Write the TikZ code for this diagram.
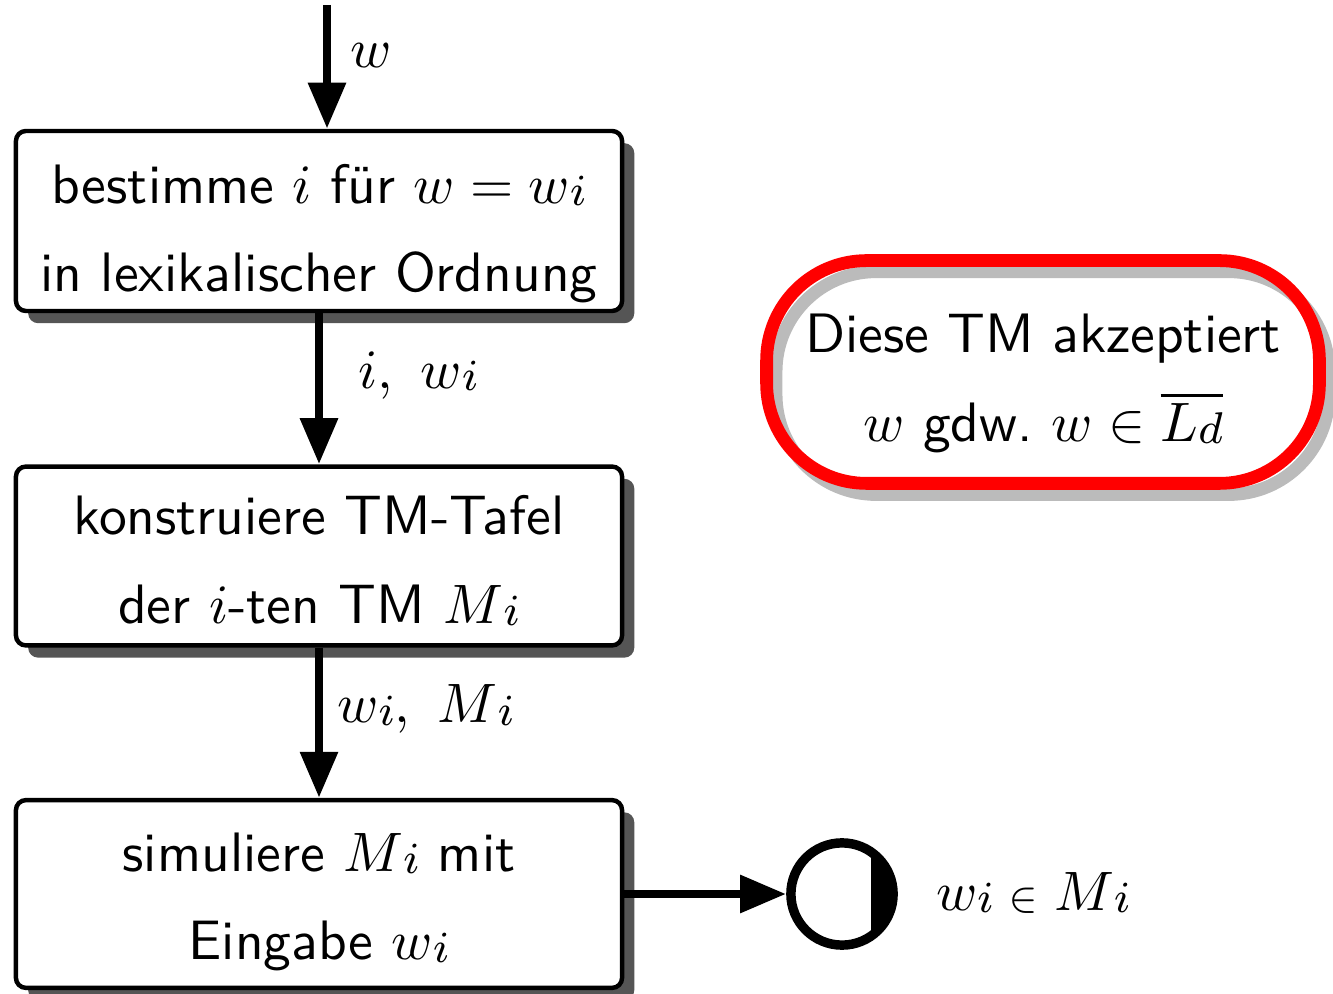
\documentclass[tikz,border=0pt]{standalone}
\usetikzlibrary{arrows.meta,shadows}
\definecolor{boxshadow}{HTML}{555555}
\definecolor{ovalshadow}{HTML}{BBBBBB}
\definecolor{ovalred}{HTML}{FF0000}
% index set close to the baseline, slightly smaller than the base letter
\newcommand\lowidx[1]{\raisebox{-0.4pt}{\fontsize{8}{8}\selectfont$#1$}}
\begin{document}
\begin{tikzpicture}[x=0.18pt, y=-0.18pt,
  every node/.style={font=\sffamily\fontsize{10}{16}\selectfont},
  stepbox/.style={draw, line width=0.8pt, fill=white, rounded corners=1.8pt,
    minimum width=109.1pt, align=center, inner sep=0pt,
    drop shadow={shadow xshift=2.2pt, shadow yshift=-2.2pt, fill=boxshadow, opacity=1}},
  oval/.style={draw=ovalred, line width=2.3pt, rounded corners=18pt,
    minimum width=99.5pt, minimum height=40.1pt, align=center, inner sep=0pt,
    general shadow={draw=ovalshadow, line width=2.3pt, shadow xshift=1.7pt, shadow yshift=-2pt}},
  flow/.style={line width=1.6pt, -{Triangle[length=8.3pt,width=6.5pt]}},
  edgelabel/.style={anchor=west, pos=0.41, inner sep=0pt},
  halt/.style={circle, draw, line width=1.7pt, minimum size=18.4pt, inner sep=0pt}
]
\useasboundingbox (0,0) rectangle (1333,994);

% processing steps
\node[stepbox, minimum height=32.4pt] (b1) at (319,221)
  {\rule{0pt}{11.6pt}bestimme $i$ für $w = w\lowidx{i}$\\in lexikalischer Ordnung};
\node[stepbox, minimum height=32.2pt] (b2) at (319,556)
  {\rule{0pt}{8.7pt}konstruiere TM-Tafel\\der $i$-ten TM $M\lowidx{i}$};
\node[stepbox, minimum height=33.8pt] (b3) at (319,894)
  {\rule{0pt}{9.8pt}simuliere $M\lowidx{i}$ mit\\Eingabe $w\lowidx{i}$};

% accepting state
\node[halt] (stop) at (842,894) {};
\begin{scope}
  \clip (871,830) rectangle (910,960);
  \fill (stop.center) circle[radius=9.2pt];
\end{scope}
\node[anchor=west, inner sep=0pt] (verdict) at (935,893)
  {$w\lowidx{i} \mathrel{\scriptstyle\in} M\lowidx{i}$};

% remark
\node[oval] (note) at (1043,372)
  {\rule{0pt}{11pt}Diese TM akzeptiert\\$w$ gdw.\ $w \in \overline{L\lowidx{d}}$};

% data flow
\coordinate (input) at (327,5);
\draw[flow] (input) -- node[edgelabel, xshift=3.4pt] {$w$} (input |- b1.north);
\draw[flow] (b1) -- node[edgelabel, xshift=6.3pt] {$i,\ w\lowidx{i}$} (b2);
\draw[flow] (b2) -- node[edgelabel, xshift=2.5pt] {$w\lowidx{i},\ M\lowidx{i}$} (b3);
\draw[flow] (b3) -- (stop);
\end{tikzpicture}
\end{document}
